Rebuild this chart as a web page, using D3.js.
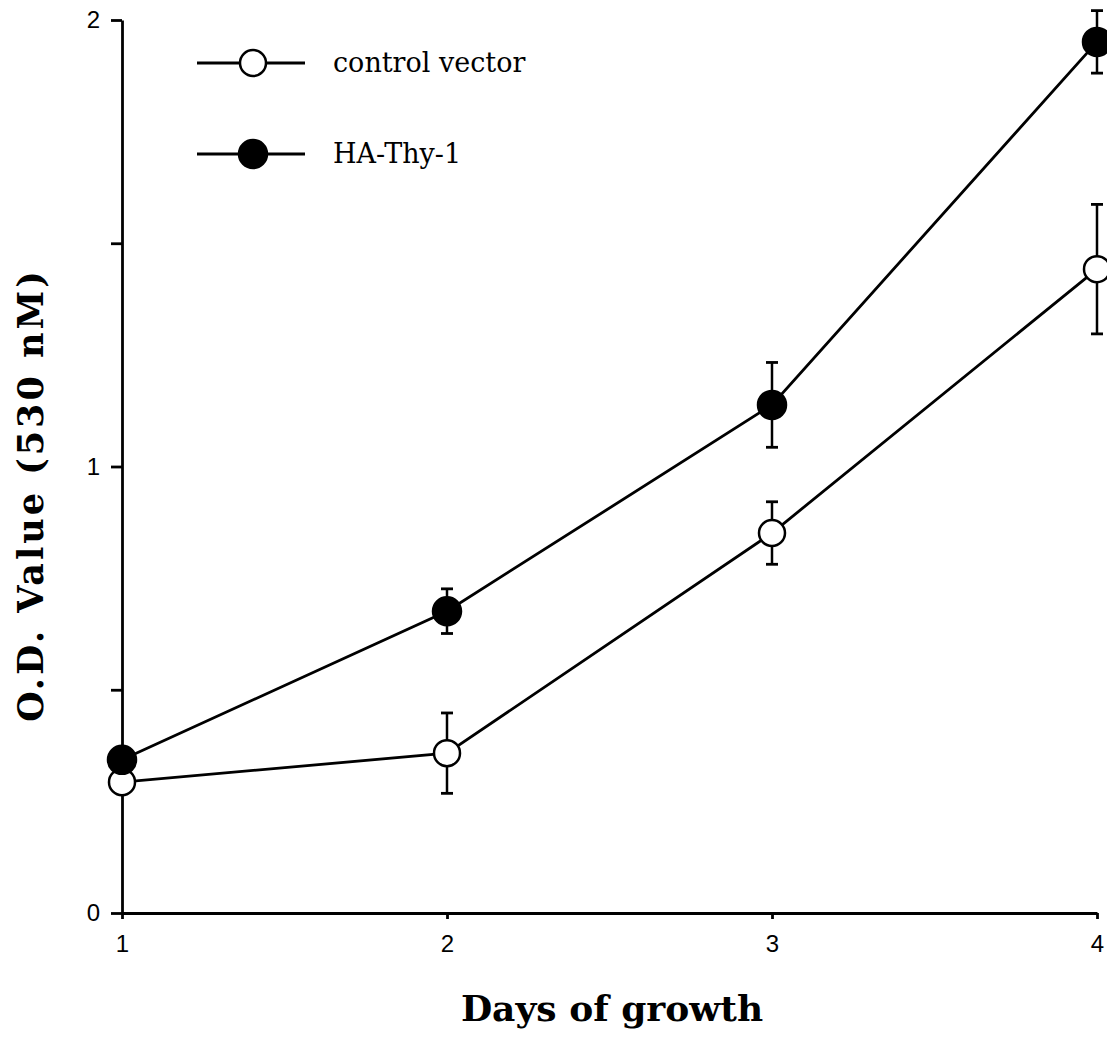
<!DOCTYPE html>
<html>
<head>
<meta charset="utf-8">
<script src="https://cdn.jsdelivr.net/npm/d3@7"></script>
<style>
  body { margin:0; background:#fff; }
  svg { display:block; }
</style>
</head>
<body>
<div id="chart"></div>
<script>
// data
var days = [1, 2, 3, 4];
var controlVals = [0.293, 0.358, 0.851, 1.442];
var controlErr  = [0.015, 0.09, 0.07, 0.145];
var thyVals = [0.343, 0.676, 1.138, 1.951];
var thyErr  = [0.02, 0.05, 0.095, 0.07];
var yTicks = [0, 0.5, 1, 1.5, 2];
var yLabels = ['0', '', '1', '', '2'];
var seriesNames = ['control vector', 'HA-Thy-1'];

var W = 1107, H = 1059;
var margin = {top:20, right:10, bottom:146, left:122};

var svg = d3.select('#chart').append('svg')
    .attr('width', W).attr('height', H);

var x = d3.scaleLinear().domain([1, 4]).range([margin.left, 1097]);
var y = d3.scaleLinear().domain([0, 2]).range([913, 20]);

// axes
var yAxis = svg.append('g')
    .attr('transform', 'translate(' + margin.left + ',0)')
    .call(d3.axisLeft(y).tickValues(yTicks).tickFormat(function(d, i) { return yLabels[i]; })
        .tickSize(11).tickSizeOuter(0));
var xAxis = svg.append('g')
    .attr('transform', 'translate(0,' + y(0) + ')')
    .call(d3.axisBottom(x).tickValues(days).tickFormat(d3.format('d'))
        .tickSize(6).tickSizeOuter(0));

[yAxis, xAxis].forEach(function(a) {
    a.attr('font-family', '"Liberation Sans", Arial, sans-serif').attr('font-size', 24);
    a.select('.domain').attr('stroke', '#000').attr('stroke-width', 2.8);
    a.selectAll('.tick line').attr('stroke', '#000').attr('stroke-width', 2.8);
    a.selectAll('.tick text').attr('fill', '#000');
});
yAxis.selectAll('.tick text').attr('x', -22);
xAxis.selectAll('.tick text').attr('y', 22);

// axis titles
svg.append('text')
    .attr('transform', 'translate(43,' + 495 + ') rotate(-90)')
    .attr('text-anchor', 'middle')
    .attr('font-family', '"DejaVu Serif", serif')
    .attr('font-weight', 'bold')
    .attr('font-size', 35)
    .attr('letter-spacing', 3)
    .text('O.D. Value (530 nM)');

svg.append('text')
    .attr('x', 612).attr('y', 1021)
    .attr('text-anchor', 'middle')
    .attr('font-family', '"DejaVu Serif", serif')
    .attr('font-weight', 'bold')
    .attr('font-size', 36)
    .text('Days of growth');

var line = d3.line()
    .x(function(d) { return x(d.day); })
    .y(function(d) { return y(d.value); });

function drawSeries(vals, errs, filled) {
    var data = days.map(function(d, i) { return {day:d, value:vals[i], err:errs[i]}; });
    var g = svg.append('g');
    g.append('path')
        .datum(data)
        .attr('fill', 'none')
        .attr('stroke', '#000')
        .attr('stroke-width', 2.8)
        .attr('d', line);
    var eb = g.selectAll('g.err').data(data).enter().append('g').attr('class', 'err');
    eb.append('line')
        .attr('x1', function(d) { return x(d.day); })
        .attr('x2', function(d) { return x(d.day); })
        .attr('y1', function(d) { return y(d.value + d.err); })
        .attr('y2', function(d) { return y(d.value - d.err); })
        .attr('stroke', '#000').attr('stroke-width', 2.5);
    [1, -1].forEach(function(s) {
        eb.append('line')
            .attr('x1', function(d) { return x(d.day) - 6; })
            .attr('x2', function(d) { return x(d.day) + 6; })
            .attr('y1', function(d) { return y(d.value + s * d.err); })
            .attr('y2', function(d) { return y(d.value + s * d.err); })
            .attr('stroke', '#000').attr('stroke-width', 2.8);
    });
    g.selectAll('circle').data(data).enter().append('circle')
        .attr('cx', function(d) { return x(d.day); })
        .attr('cy', function(d) { return y(d.value); })
        .attr('r', filled ? 14 : 13)
        .attr('fill', filled ? '#000' : '#fff')
        .attr('stroke', '#000')
        .attr('stroke-width', 2.5);
}

drawSeries(controlVals, controlErr, false);
drawSeries(thyVals, thyErr, true);

// legend
var legend = svg.append('g').attr('transform', 'translate(197,63)');
seriesNames.forEach(function(name, i) {
    var g = legend.append('g').attr('transform', 'translate(0,' + i * 91 + ')');
    g.append('line')
        .attr('x1', 0).attr('x2', 108).attr('y1', 0).attr('y2', 0)
        .attr('stroke', '#000').attr('stroke-width', 2.8);
    g.append('circle')
        .attr('cx', 56).attr('cy', 0)
        .attr('r', i ? 14 : 13)
        .attr('fill', i ? '#000' : '#fff')
        .attr('stroke', '#000').attr('stroke-width', 2.5);
    g.append('text')
        .attr('x', 136).attr('y', 9)
        .attr('font-family', '"DejaVu Serif", serif')
        .attr('font-size', 27)
        .text(name);
});
</script>
</body>
</html>
